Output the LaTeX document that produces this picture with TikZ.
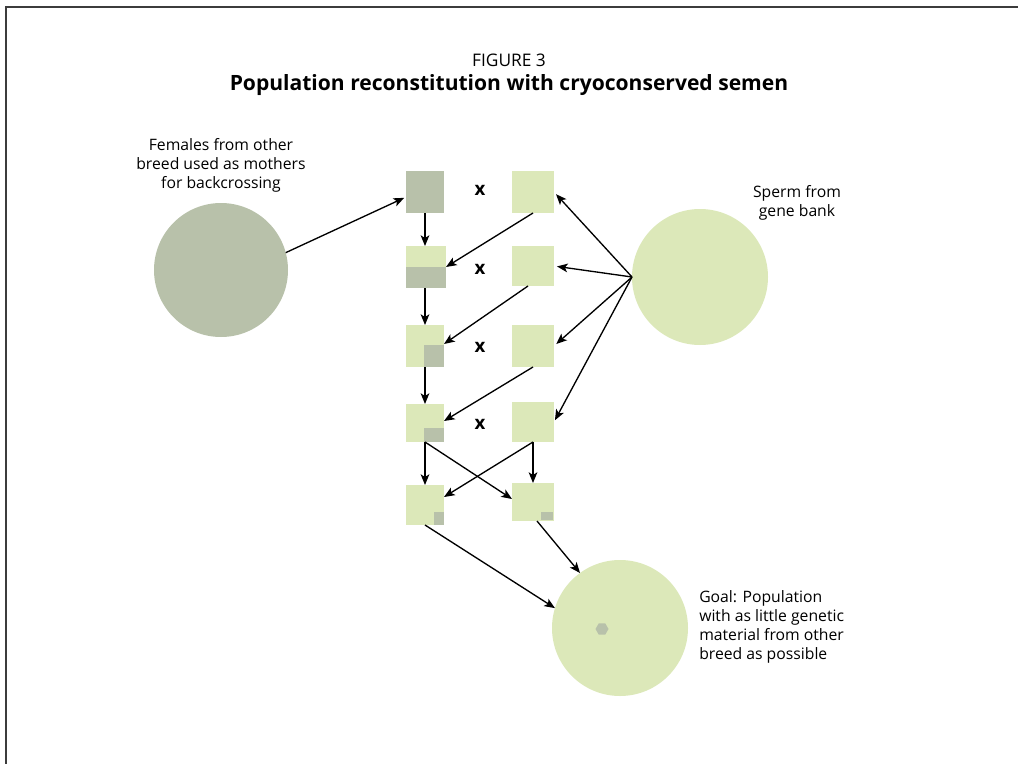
\documentclass[tikz,border=0pt]{standalone}
\usepackage{fontspec}
\setmainfont{Open Sans}
\usetikzlibrary{arrows.meta,shapes.geometric}
\definecolor{darkg}{RGB}{184,193,170}
\definecolor{lightg}{RGB}{220,232,185}
\definecolor{framec}{RGB}{60,60,60}
\newdimen\pxu \pxu=0.75pt
\begin{document}
\begin{tikzpicture}[x=0.75pt,y=-0.75pt,
  sq/.style={rectangle,inner sep=0pt,outer sep=0pt,draw=none,fill=lightg},
  blob/.style={circle,inner sep=0pt,outer sep=0pt,draw=none,minimum size=136\pxu},
  arr/.style={-{Stealth[length=8pt,width=6.5pt,inset=2pt]},line width=1pt,black},
  lbl/.style={font=\fontsize{11.8}{14.25}\selectfont,inner sep=0pt},
  cross/.style={font=\fontsize{14}{16}\selectfont\bfseries,inner sep=0pt}]
\useasboundingbox (0,0) rectangle (1018,764);
\draw[framec,line width=1.5pt] (6,764) -- (6,7) -- (1018,7);

% title
\node[inner sep=0pt,font=\fontsize{13}{16}\selectfont] (fig) at (509,60) {FIGURE 3};
\node[inner sep=0pt,font=\fontsize{15.8}{19}\selectfont\bfseries] (ttl) at (509,85) {Population reconstitution with cryoconserved semen};

% circles
\node[blob,fill=darkg,minimum size=134\pxu] (lc) at (221,270) {};
\node[blob,fill=lightg] (sc) at (700,277) {};
\node[blob,fill=lightg] (goal) at (620,628) {};
\node[regular polygon,regular polygon sides=6,fill=darkg,inner sep=0pt,minimum size=13\pxu] (hex) at (602,629) {};

% boxes
\node[sq,fill=darkg,minimum width=38\pxu,minimum height=42\pxu] (b11) at (425,192) {};
\node[sq,minimum width=42\pxu,minimum height=42\pxu] (b12) at (533,192) {};
\node[sq,minimum width=40\pxu,minimum height=42\pxu] (b21) at (426,267) {};
\node[sq,minimum width=42\pxu,minimum height=40\pxu] (b22) at (533,266) {};
\node[sq,minimum width=38\pxu,minimum height=42\pxu] (b31) at (425,346) {};
\node[sq,minimum width=42\pxu,minimum height=42\pxu] (b32) at (533,346) {};
\node[sq,minimum width=38\pxu,minimum height=38\pxu] (b41) at (425,423) {};
\node[sq,minimum width=42\pxu,minimum height=40\pxu] (b42) at (533,422) {};
\node[sq,minimum width=38\pxu,minimum height=40\pxu] (b51) at (425,505) {};
\node[sq,minimum width=42\pxu,minimum height=38\pxu] (b52) at (533,502) {};

% grey portions
\fill[darkg] (b21.south west) rectangle (b21.east);
\fill[darkg] (b31.south east) rectangle ++(-20,-22);
\fill[darkg] (b41.south east) rectangle ++(-20,-14);
\fill[darkg] (b51.south east) rectangle ++(-10,-13);
\fill[darkg] ([shift={(-1,-1)}]b52.south east) rectangle ++(-12,-8);

% x labels
\node[cross] (x1) at (480,190) {x};
\node[cross] (x2) at (480,269) {x};
\node[cross] (x3) at (480,347) {x};
\node[cross] (x4) at (480,424) {x};

% texts
\node[lbl,align=center] (tf) at (221,165) {Females from other\\breed used as mothers\\for backcrossing};
\node[lbl,align=center] (ts) at (797,203) {Sperm from\\gene bank};
\node[lbl,align=left,anchor=west] (tg) at (699,627) {Goal: Population\\with as little genetic\\material from other\\breed as possible};

% arrows
\draw[arr,shorten >=2\pxu] (lc.15) -- ([shift={(0,5)}]b11.west);
\draw[arr] (b11.south) -- (b11.south |- b21.north);
\draw[arr] (b21.south -| b11.south) -- (b11.south |- b31.north);
\draw[arr] (b31.south) -- (b41.north);
\draw[arr] (b41.south) -- (b51.north);
\draw[arr] (b42.south) -- (b52.north);

\draw[arr] (b12.south) -- (b21.east);
\draw[arr] ([xshift=-5\pxu]b22.south) -- ([shift={(0,-2)}]b31.east);
\draw[arr] (b32.south) -- ([shift={(0,-2)}]b41.east);
\draw[arr] (b41.south) -- ([shift={(0,-3)}]b52.west);
\draw[arr] (b42.south) -- ([shift={(0,-8)}]b51.east);

\draw[arr,shorten >=3\pxu] (sc.west) -- (b12.east);
\draw[arr,shorten >=3\pxu] (sc.west) -- (b22.east);
\draw[arr,shorten >=3\pxu] (sc.west) -- (b32.east);
\draw[arr,shorten >=2\pxu] (sc.west) -- (b42.east);

\draw[arr] (b51.south) -- (goal.163);
\draw[arr] ([xshift=4\pxu]b52.south) -- (goal.126);
\end{tikzpicture}
\end{document}
